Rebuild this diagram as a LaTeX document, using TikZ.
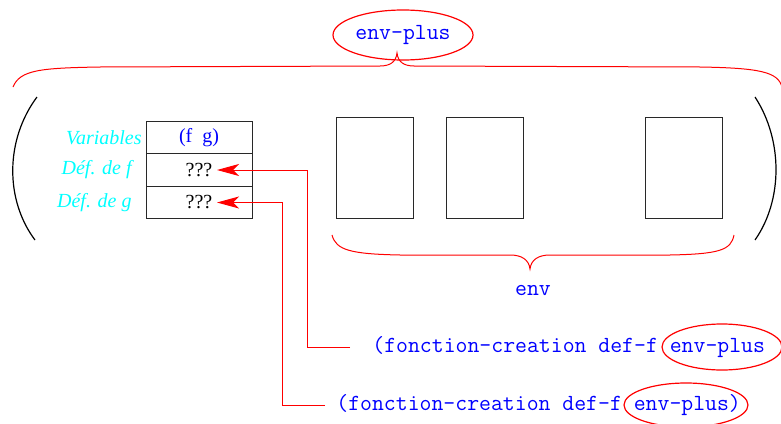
\documentclass[tikz,border=0pt]{standalone}
\usepackage{fontspec}
\setmainfont{Liberation Serif}
\usetikzlibrary{shapes.geometric, arrows.meta, positioning}
\definecolor{fieldcyan}{RGB}{0, 255, 255}
\definecolor{frameline}{RGB}{40, 40, 40}

\begin{document}
\begin{tikzpicture}[x=0.5pt, y=-0.5pt,
    cell/.style={draw=frameline, minimum width=53pt, minimum height=16.25pt, inner sep=0pt, outer sep=0pt},
    slot/.style={draw=frameline, minimum width=38.5pt, minimum height=50.5pt, inner sep=0pt},
    field/.style={text=fieldcyan, font=\itshape, inner sep=0pt},
    code/.style={text=blue, font=\fontsize{11.55}{13}\ttfamily, inner sep=0pt},
    ring/.style={code, draw=red, ellipse, line width=0.6pt},
    ptr/.style={-{Stealth[length=11pt, width=6pt, inset=3pt]}, red, line width=0.5pt},
    brace/.style={red, line width=0.5pt}
]
    \useasboundingbox (0,0) rectangle (781,423);

    % the frame: variables and their values
    \node[cell] (var) at (199,137.5) {\textcolor{blue}{(f\ \ g)}};
    \node[cell, below=0pt of var] (deff) {???};
    \node[cell, below=0pt of deff] (defg) {???};

    \node[field, left=2pt of var] (lvar) {Variables};
    \node[field, left=7pt of deff] (ldeff) {Déf. de f};
    \node[field, left=7pt of defg] (ldefg) {Déf. de g};

    % the older frames of env
    \node[slot] (fr1) at (375,168) {};
    \node[slot, right=16pt of fr1] (fr2) {};
    \node[slot, right=60.5pt of fr2] (fr3) {};

    % parentheses round the whole environment
    \draw[line width=0.6pt] (37,97) .. controls (5,140) and (5,200) .. (35,240);
    \draw[line width=0.6pt] (755,97) .. controls (783,140) and (783,200) .. (755,240);

    % braces
    \draw[brace] (13,87) .. controls (20,70) and (40,68) .. (100,67) -- (380,66)
        .. controls (390,66) and (396,62) .. (397,53)
        .. controls (398,62) and (404,66) .. (414,66) -- (700,67)
        .. controls (760,68) and (778,72) .. (782,87);
    \draw[brace] (332,235) .. controls (336,250) and (350,254) .. (400,255) -- (510,255)
        .. controls (522,255) and (529,260) .. (530,269)
        .. controls (531,260) and (538,255) .. (550,255) -- (670,255)
        .. controls (720,254) and (731,250) .. (734,235);

    \node[ring, minimum width=70pt, minimum height=25pt] (plus) at (403,35) {env-plus};
    \node[code] (env) at (533,290) {env};

    % the two calls that fill the slots
    \node[code, anchor=west] (callf) at (372,347) {(fonction-creation def-f env-plus};
    \node[ring, minimum width=60pt, minimum height=23pt] (plusf) at ([xshift=175pt]callf.west) {};
    \node[code, anchor=west] (callg) at (336,405) {(fonction-creation def-f env-plus)};
    \node[ring, minimum width=62pt, minimum height=22pt] (plusg) at ([xshift=175pt]callg.west) {};

    \draw[ptr] ([xshift=-11pt]callf.west) -- ++(-43,0) |- ([xshift=-17.5pt]deff.east);
    \draw[ptr] ([xshift=-5.5pt]callg.west) -- ++(-43,0) |- ([xshift=-17.5pt]defg.east);
\end{tikzpicture}
\end{document}
